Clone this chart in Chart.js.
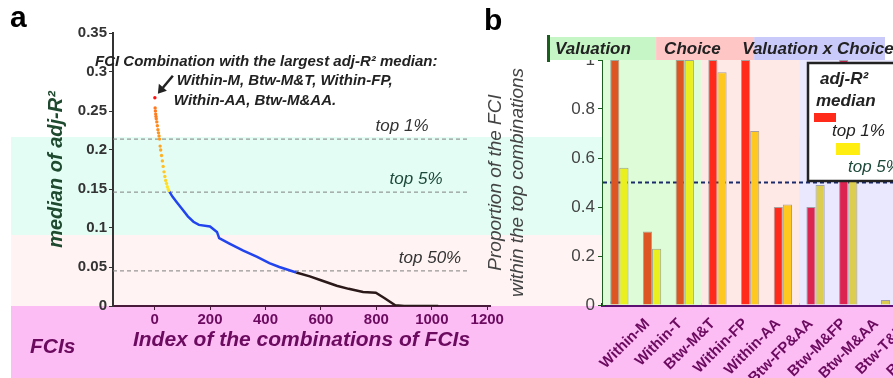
<!DOCTYPE html>
<html>
<head>
<meta charset="utf-8">
<script src="https://cdn.jsdelivr.net/npm/chart.js@4.4.1/dist/chart.umd.min.js"></script>
<style>
body{margin:0;width:893px;height:378px;overflow:hidden;position:relative;background:#fff;font-family:Arial,"Liberation Sans",sans-serif;}
.band{position:absolute;left:11px;width:882px;}
canvas{position:absolute;top:0;}
#chartA{left:0;}
#chartB{left:480px;}
.lbl{position:absolute;font-weight:bold;}
</style>
</head>
<body>
<div class="band" style="top:137px;height:98px;background:#e3fdf5"></div>
<div class="band" style="top:235px;height:71px;background:#fff3f3"></div>
<div class="band" style="top:306px;height:72px;background:#fbbdf4"></div>
<canvas id="chartA" width="505" height="378"></canvas>
<canvas id="chartB" width="450" height="378"></canvas>
<div class="lbl" style="left:10px;top:0px;font-size:30px">a</div>
<div class="lbl" style="left:484px;top:3px;font-size:30px">b</div>
<div class="lbl" style="left:30px;top:334px;font-size:21px;font-style:italic;color:#6b0a5e">FCIs</div>
<script>
Chart.defaults.font.family = 'Arial, "Liberation Sans", sans-serif';
Chart.defaults.animation = false;

// ---- panel a : sorted median adj-R2 of every FCI combination
const xTicksA = [0, 200, 400, 600, 800, 1000, 1200];
const yTicksA = [0, 0.05, 0.1, 0.15, 0.2, 0.25, 0.3, 0.35];
// top 5% combinations (first 10 = top 1%)
const topIdx = [1, 2, 3, 4, 5, 6, 8, 10, 12, 14, 16, 18, 20, 22, 25, 28, 31, 34, 37, 40, 43, 46, 49, 51];
const topVal = [0.267, 0.254, 0.250, 0.246, 0.243, 0.240, 0.236, 0.231, 0.226, 0.222, 0.218, 0.214, 0.205, 0.200, 0.193, 0.186, 0.179, 0.172, 0.166, 0.161, 0.157, 0.153, 0.150, 0.148];
// top 50%
const midIdx = [51, 65, 80, 100, 120, 140, 160, 200, 225, 233, 270, 320, 370, 414, 450, 511];
const midVal = [0.148, 0.140, 0.133, 0.124, 0.115, 0.108, 0.104, 0.102, 0.095, 0.087, 0.080, 0.071, 0.063, 0.055, 0.050, 0.043];
// remaining combinations
const restIdx = [511, 560, 600, 657, 700, 752, 798, 830, 868, 900, 1023];
const restVal = [0.043, 0.038, 0.033, 0.026, 0.022, 0.018, 0.017, 0.010, 0.001, 0, 0];
const thresholds = [0.214, 0.146, 0.045];
const thresholdLabels = ['top 1%', 'top 5%', 'top 50%'];

// ---- panel b : proportion of each FCI within the top combinations
const fciNames = ['Within-M', 'Within-T', 'Btw-M&T', 'Within-FP', 'Within-AA', 'Btw-FP&AA', 'Btw-M&FP', 'Btw-M&AA', 'Btw-T&FP', 'Btw-T&AA'];
const top1Prop = [1.0, 0.30, 1.0, 1.0, 1.0, 0.40, 0.40, 1.0, 0.0, 0.01];
const top5Prop = [0.56, 0.23, 1.0, 0.95, 0.71, 0.41, 0.49, 0.84, 0.02, 0.02];
const yTicksB = [0, 0.2, 0.4, 0.6, 0.8, 1];
const taskNames = ['Valuation', 'Choice', 'Valuation x Choice'];
const taskOfFci = [0, 0, 0, 1, 1, 1, 2, 2, 2, 2];
const chanceLine = 0.5;

const pts = (xs, ys) => xs.map((v, i) => ({x: v, y: ys[i]}));

// dot colour: red for the best one, orange -> yellow after
function dotColor(ctx) {
	const v = ctx.raw ? ctx.raw.x : 1;
	if (v <= 1) return '#ff1010';
	const t = Math.min(1, (v - 2) / 45);
	const g = Math.round(120 + t * 110);
	return 'rgb(255,' + g + ',' + Math.round(30 + t * 10) + ')';
}

const purple = '#6b0a5e';

const panelAExtras = {
	id: 'panelAExtras',
	beforeDatasetsDraw(chart) {
		const {ctx, chartArea: area, scales: {y}} = chart;
		ctx.save();
		thresholds.forEach((t, i) => {
			const py = y.getPixelForValue(t);
			ctx.setLineDash([4, 3]);
			ctx.strokeStyle = '#808080';
			ctx.lineWidth = 1;
			ctx.beginPath();
			ctx.moveTo(area.left, py);
			ctx.lineTo(area.right - 22, py);
			ctx.stroke();
			ctx.setLineDash([]);
			ctx.fillStyle = i == 1 ? '#1d4a3a' : '#333';
			ctx.font = 'italic 17px Arial, "Liberation Sans", sans-serif';
			ctx.textAlign = 'center';
			ctx.textBaseline = 'bottom';
			ctx.fillText(thresholdLabels[i], area.right - 88 + i * 14, py - 4);
		});
		ctx.restore();
	},
	afterDraw(chart) {
		const {ctx, scales: {x, y}} = chart;
		const px = x.getPixelForValue(topIdx[0]);
		const py = y.getPixelForValue(topVal[0]);
		ctx.save();
		ctx.fillStyle = '#222';
		ctx.font = 'bold italic 15px Arial, "Liberation Sans", sans-serif';
		ctx.textBaseline = 'middle';
		ctx.fillText('FCI Combination with the largest adj-R\u00b2 median:', 95, 62);
		ctx.fillText('Within-M, Btw-M&T, Within-FP,', px + 22, 81);
		ctx.fillText('Within-AA, Btw-M&AA.', px + 19, 101);
		// arrow to the best combination
		ctx.strokeStyle = '#222';
		ctx.lineWidth = 2.5;
		ctx.beginPath();
		ctx.moveTo(px + 18, py - 22);
		ctx.lineTo(px + 8, py - 10);
		ctx.stroke();
		ctx.beginPath();
		ctx.moveTo(px + 3, py - 4);
		ctx.lineTo(px + 4, py - 14);
		ctx.lineTo(px + 12, py - 7);
		ctx.closePath();
		ctx.fill();
		ctx.restore();
	}
};

new Chart(document.getElementById('chartA'), {
	type: 'scatter',
	plugins: [panelAExtras],
	data: {
		datasets: [{
			label: 'top 5%',
			data: pts(topIdx, topVal),
			showLine: false,
			pointRadius: 1.7,
			pointBorderWidth: 0,
			pointBackgroundColor: dotColor,
		}, {
			label: 'top 50%',
			data: pts(midIdx, midVal),
			showLine: true,
			borderColor: '#2244ee',
			borderWidth: 2.5,
			pointRadius: 0,
		}, {
			label: 'rest',
			data: pts(restIdx, restVal),
			showLine: true,
			borderColor: '#2b1818',
			borderWidth: 2.5,
			pointRadius: 0,
		}]
	},
	options: {
		responsive: false,
		layout: {padding: {left: 0, right: 8, top: 33, bottom: 0}},
		plugins: {legend: {display: false}, tooltip: {enabled: false}},
		scales: {
			x: {
				type: 'linear',
				min: -150,
				max: 1210,
				afterBuildTicks: s => { s.ticks = xTicksA.map(v => ({value: v})); },
				afterFit: s => { s.height = 72; },
				grid: {drawOnChartArea: false, tickLength: 4, color: '#4a1a3a'},
				border: {color: '#4a1a3a', width: 2},
				ticks: {padding: 1, color: purple, font: {size: 15, weight: 'bold'}, callback: v => String(v)},
				title: {display: true, text: 'Index of the combinations of FCIs', color: purple,
					font: {size: 21, weight: 'bold', style: 'italic'}, padding: {bottom: 25}}
			},
			y: {
				min: 0,
				max: 0.35,
				afterBuildTicks: s => { s.ticks = yTicksA.map(v => ({value: v})); },
				afterFit: s => { s.width = 113; },
				grid: {drawOnChartArea: false, tickLength: 4, color: '#333'},
				border: {color: '#333', width: 2},
				ticks: {padding: 2, color: '#333', font: {size: 15, weight: 'bold'}, callback: v => String(v)},
				title: {display: true, text: 'median of adj-R\u00b2', color: '#1f4a2f',
					font: {size: 20, weight: 'bold', style: 'italic'}, padding: {top: 44}}
			}
		}
	}
});

// ---- panel b
const top1Colors = ['#dd5522', '#ff2a1a', '#dc2450'];
const top5Colors = ['#eaf020', '#ffc820', '#dccc50'];
const sectionBg = ['#dffcd8', '#ffe9e6', '#e9e8ff'];
const headerBg = ['#c6f6c6', '#ffc6c6', '#c9c9fa'];
const headerShift = -45;

const panelBExtras = {
	id: 'panelBExtras',
	beforeDatasetsDraw(chart) {
		const {ctx, chartArea: area, scales: {x, y}} = chart;
		const half = (x.getPixelForValue(1) - x.getPixelForValue(0)) / 2;
		ctx.save();
		taskNames.forEach((name, k) => {
			const first = taskOfFci.indexOf(k), last = taskOfFci.lastIndexOf(k);
			const x0 = k == 0 ? area.left : x.getPixelForValue(first) - half;
			const x1 = x.getPixelForValue(last) + half;
			ctx.fillStyle = sectionBg[k];
			ctx.fillRect(x0, area.top, x1 - x0, area.bottom - area.top);
			// header above the plot
			const h0 = (k == 0 ? area.left - 11 : x0) + headerShift;
			const h1 = x1 + headerShift;
			ctx.fillStyle = headerBg[k];
			ctx.fillRect(h0, area.top - 23, h1 - h0, 23);
			ctx.fillStyle = '#222';
			ctx.font = 'bold italic 17px Arial, "Liberation Sans", sans-serif';
			ctx.textBaseline = 'middle';
			ctx.textAlign = 'left';
			ctx.fillText(name, h0 + (k == 2 ? -12 : 8), area.top - 11);
		});
		ctx.fillStyle = '#1b5e20';
		ctx.fillRect(area.left - 11 + headerShift, area.top - 25, 3, 27);
		// 0.5 reference line
		const py = y.getPixelForValue(chanceLine);
		ctx.strokeStyle = '#1a2a6a';
		ctx.lineWidth = 2;
		ctx.setLineDash([4, 3]);
		ctx.beginPath();
		ctx.moveTo(area.left, py);
		ctx.lineTo(area.right, py);
		ctx.stroke();
		ctx.restore();
	},
	afterDraw(chart) {
		const {ctx} = chart;
		// legend box (page x 808 -> canvas x 328)
		const bx = 328, by = 63;
		ctx.save();
		ctx.fillStyle = '#fff';
		ctx.fillRect(bx, by, 100, 118);
		ctx.strokeStyle = '#222';
		ctx.lineWidth = 2.5;
		ctx.strokeRect(bx, by, 100, 118);
		ctx.fillStyle = '#222';
		ctx.font = 'bold italic 17px Arial, "Liberation Sans", sans-serif';
		ctx.textBaseline = 'middle';
		ctx.textAlign = 'left';
		ctx.fillText('adj-R\u00b2', bx + 12, by + 16);
		ctx.fillText('median', bx + 8, by + 38);
		ctx.fillStyle = '#ff2a1a';
		ctx.fillRect(bx + 6, by + 50, 22, 9);
		ctx.fillStyle = '#ffee10';
		ctx.fillRect(bx + 28, by + 80, 24, 12);
		ctx.fillStyle = '#222';
		ctx.font = 'italic 17px Arial, "Liberation Sans", sans-serif';
		ctx.fillText('top 1%', bx + 24, by + 68);
		ctx.fillStyle = '#1d4a3a';
		ctx.fillText('top 5%', bx + 40, by + 104);
		ctx.restore();
	}
};

new Chart(document.getElementById('chartB'), {
	type: 'bar',
	plugins: [panelBExtras],
	data: {
		labels: fciNames,
		datasets: [{
			label: 'top 1%',
			data: top1Prop,
			backgroundColor: ctx => top1Colors[taskOfFci[ctx.dataIndex]],
			borderColor: 'rgba(110,110,110,0.6)',
			borderWidth: 1,
			categoryPercentage: 0.56,
			barPercentage: 1.0,
		}, {
			label: 'top 5%',
			data: top5Prop,
			backgroundColor: ctx => top5Colors[taskOfFci[ctx.dataIndex]],
			borderColor: 'rgba(110,110,110,0.6)',
			borderWidth: 1,
			categoryPercentage: 0.56,
			barPercentage: 1.0,
		}]
	},
	options: {
		responsive: false,
		layout: {padding: {left: 0, right: 0, top: 60, bottom: 0}},
		plugins: {legend: {display: false}, tooltip: {enabled: false}},
		scales: {
			x: {
				afterFit: s => { s.height = 73; },
				grid: {drawOnChartArea: false, display: false},
				border: {color: '#5a1070', width: 4},
				ticks: {minRotation: 45, maxRotation: 45, autoSkip: false, labelOffset: 28, padding: 2,
					color: purple, font: {size: 15, weight: 'bold'}}
			},
			y: {
				min: 0,
				max: 1,
				afterBuildTicks: s => { s.ticks = yTicksB.map(v => ({value: v})); },
				afterFit: s => { s.width = 123; },
				grid: {drawOnChartArea: false, tickLength: 5, color: '#1b5e20'},
				border: {color: '#1b5e20', width: 3},
				ticks: {padding: 3, color: '#444', font: {size: 17}, callback: v => String(v)},
				title: {display: true, text: ['Proportion of the FCI', 'within the top combinations'], color: '#444',
					font: {size: 19, style: 'italic'}, padding: {top: 4}}
			}
		}
	}
});
</script>
</body>
</html>
